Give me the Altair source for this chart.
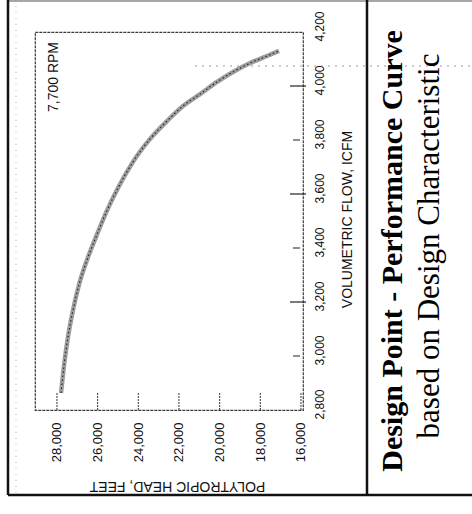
import altair as alt
import pandas as pd

# ---- data read from the (rotated) reference chart ----
head_values = [27800, 27650, 27460, 27210, 26920, 26520, 26080, 25590, 25000, 24260,
               23420, 22590, 21800, 20960, 20130, 19340, 18500, 17670, 17080]
flow_values = [2863, 2967, 3070, 3170, 3263, 3356, 3441, 3530, 3622, 3719,
               3804, 3870, 3926, 3970, 4015, 4052, 4085, 4111, 4130]

head_ticks = [28000, 26000, 24000, 22000, 20000, 18000, 16000]
flow_ticks = [2800, 3000, 3200, 3400, 3600, 3800, 4000, 4200]
flow_long_ticks = [3200, 3600, 4000]
flow_short_ticks = [3000, 3400, 3800]

rpm_label = ["7,700 RPM"]
rpm_head = [28490]
rpm_flow = [4163]

x_title = "POLYTROPIC HEAD, FEET"
y_title = "VOLUMETRIC FLOW, ICFM"
title_main = ["Design Point - Performance Curve"]
title_sub = ["based on Design Characteristic"]

# ---- layout ----
W, H = 268, 378
L, T = 35, 32
SANS = "Liberation Sans"
SERIF = "Liberation Serif"

curve = pd.DataFrame({"head": head_values, "flow": flow_values})
hticks = pd.DataFrame({"head": head_ticks})
flong = pd.DataFrame({"flow": flow_long_ticks})
fshort = pd.DataFrame({"flow": flow_short_ticks})
rpm = pd.DataFrame({"head": rpm_head, "flow": rpm_flow, "label": rpm_label})
one = pd.DataFrame({"d": [0]})

xscale = alt.Scale(domain=[15900, 29080], reverse=True, nice=False, zero=False)
yscale = alt.Scale(domain=[2800, 4200], nice=False, zero=False)

xaxis = alt.Axis(
    values=head_ticks, format=",d", title=x_title,
    labelAngle=270, labelAlign="right", labelBaseline="middle",
    labelPadding=12, labelFontSize=13, labelFont=SANS, labelColor="#111",
    ticks=False, tickSize=0, domain=False, grid=False,
    labelFlush=False, labelOverlap=False,
    titleAngle=180, titleFontSize=14, titleFont=SANS, titleFontWeight="normal",
    titleX=142, titleY=75, titleAlign="center", titleBaseline="middle",
    titleColor="#111",
)
yaxis = alt.Axis(
    orient="right", values=flow_ticks, format=",d", title=y_title,
    labelAngle=270, labelAlign="center", labelBaseline="top",
    labelPadding=11, labelOffset=-6, labelFontSize=12, labelFont=SANS,
    labelColor="#111", ticks=False, tickSize=0, domain=False, grid=False,
    labelFlush=False, labelOverlap=False,
    titleAngle=270, titleFontSize=14, titleFont=SANS, titleFontWeight="normal",
    titleX=44, titleY=187, titleAlign="center", titleBaseline="middle",
    titleColor="#111",
)

X = alt.X("head:Q", scale=xscale, axis=xaxis)
Y = alt.Y("flow:Q", scale=yscale, axis=yaxis)

band = alt.Chart(curve).mark_line(
    color="#9d9d9d", strokeWidth=4.5, interpolate="monotone"
).encode(x=X, y=Y, order="flow:Q")

speck = alt.Chart(curve).mark_line(
    color="#222222", strokeWidth=1.1, strokeDash=[1.5, 2.5], interpolate="monotone"
).encode(x=X, y=Y, order="flow:Q")

bottom_ticks = alt.Chart(hticks).mark_rule(
    color="#333333", strokeWidth=1, strokeDash=[2, 1]
).encode(x=X, y=alt.value(H - 17), y2=alt.value(H))

right_long = alt.Chart(flong).mark_rule(color="#222222", strokeWidth=1.2).encode(
    y=Y, x=alt.value(W - 13), x2=alt.value(W + 3))
right_short = alt.Chart(fshort).mark_rule(color="#444444", strokeWidth=1.2).encode(
    y=Y, x=alt.value(W - 10), x2=alt.value(W - 3))

rpm_text = alt.Chart(rpm).mark_text(
    angle=270, align="right", baseline="top", font=SANS, fontSize=14, color="#111"
).encode(x=X, y=Y, text="label:N")

def rule(**enc):
    return alt.Chart(one).mark_rule(color="#111111", strokeWidth=2.5).encode(**enc)

left_border = rule(x=alt.value(8 - L), y=alt.value(0 - T), y2=alt.value(495 - T))
separator = rule(x=alt.value(367 - L), y=alt.value(0 - T), y2=alt.value(495 - T))
bottom_border = rule(y=alt.value(495 - T), x=alt.value(8 - L), x2=alt.value(472 - L))
top_border = alt.Chart(one).mark_rule(color="#8a8a8a", strokeWidth=1.5).encode(
    y=alt.value(1 - T), x=alt.value(8 - L), x2=alt.value(472 - L))
dotted_v = alt.Chart(one).mark_rule(color="#bbbbbb", strokeWidth=1, strokeDash=[1, 5]).encode(
    x=alt.value(16 - L), y=alt.value(0 - T), y2=alt.value(495 - T))
dotted_h = alt.Chart(one).mark_rule(color="#999999", strokeWidth=1, strokeDash=[2, 5]).encode(
    y=alt.value(66 - T), x=alt.value(195 - L), x2=alt.value(472 - L))

t1 = alt.Chart(pd.DataFrame({"t": title_main})).mark_text(
    angle=270, align="center", baseline="alphabetic", font=SERIF,
    fontSize=30, fontWeight="bold", color="#000"
).encode(text="t:N", x=alt.value(402 - L), y=alt.value(251 - T))

t2 = alt.Chart(pd.DataFrame({"t": title_sub})).mark_text(
    angle=270, align="center", baseline="alphabetic", font=SERIF,
    fontSize=31, fontWeight="normal", color="#000"
).encode(text="t:N", x=alt.value(439 - L), y=alt.value(246 - T))

chart = alt.layer(
    dotted_v, dotted_h, top_border, left_border, separator, bottom_border,
    band, speck, bottom_ticks, right_long, right_short, rpm_text, t1, t2,
).properties(
    width=W, height=H,
    autosize=alt.AutoSizeParams(type="none"),
    padding={"left": L, "top": T, "right": 472 - L - W, "bottom": 514 - T - H},
    background="white",
).configure_view(
    stroke="#3a3a3a", strokeWidth=1.2, strokeDash=[3, 1], fill="white"
)

chart.save("out.html", embed_options={"renderer": "svg", "actions": False})
